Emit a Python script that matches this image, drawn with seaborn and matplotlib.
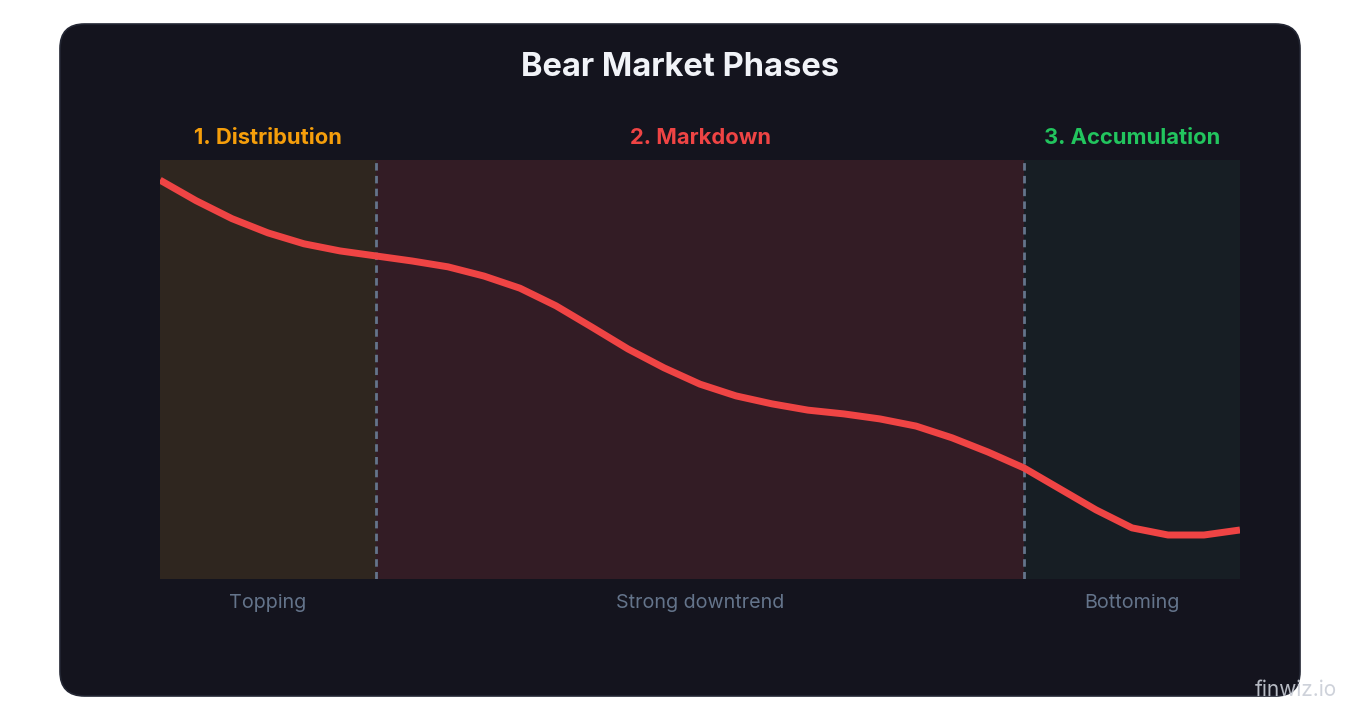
import numpy as np
import pandas as pd
import matplotlib
matplotlib.use('Agg')
import matplotlib.pyplot as plt
import matplotlib.transforms as mtransforms
from matplotlib.patches import FancyBboxPatch
import seaborn as sns

# ── data ──────────────────────────────────────────────────────────────────
step = list(range(31))
price = [95.2, 90.3, 86.0, 82.6, 80.0, 78.3, 77.1, 75.9, 74.5, 72.3,
         69.4, 65.2, 60.1, 54.9, 50.4, 46.5, 43.7, 41.8, 40.3, 39.4,
         38.2, 36.5, 33.7, 30.3, 26.5, 21.5, 16.5, 12.2, 10.5, 10.5, 11.7]

phase_names = ['1. Distribution', '2. Markdown', '3. Accumulation']
phase_notes = ['Topping', 'Strong downtrend', 'Bottoming']
phase_start = [0, 6, 24]
phase_end = [6, 24, 30]
phase_colors = ['#f59e0b', '#ef4444', '#22c55e']
phase_fills = ['#2f261f', '#331c25', '#171e24']

df = pd.DataFrame({'step': step, 'price': price})

# ── style ─────────────────────────────────────────────────────────────────
sns.set_theme(style='dark')
plt.rcParams['font.family'] = ['Inter', 'DejaVu Sans']

PANEL = '#14141e'
MUTED = '#64748b'

fig = plt.figure(figsize=(13.6, 7.2), dpi=100)
fig.patch.set_facecolor('white')

# rounded dark card behind everything
W, H = 1360, 720
card = FancyBboxPatch((60 / W, 24 / H), 1240 / W, 672 / H,
                      boxstyle='round,pad=0,rounding_size=0.018',
                      transform=fig.transFigure, facecolor=PANEL,
                      edgecolor='#232633', linewidth=1.2,
                      mutation_aspect=W / H)
card.set_zorder(-10)
fig.add_artist(card)

ax = fig.add_axes([160 / W, (720 - 579) / H, 1080 / W, 419 / H])
ax.set_zorder(1)
ax.set_facecolor(PANEL)

for s, e, fill in zip(phase_start, phase_end, phase_fills):
    ax.axvspan(s, e, color=fill, lw=0, zorder=0)

for b in phase_start[1:]:
    ax.axvline(b, color=MUTED, lw=2, linestyle=(0, (2.7, 1.9)), zorder=1)

sns.lineplot(data=df, x='step', y='price', ax=ax, color='#ef4444',
             linewidth=5, zorder=3, solid_capstyle='butt')

ax.set_xlim(0, 30)
ax.set_ylim(0, 100)
ax.set_xticks([])
ax.set_yticks([])
ax.set_xlabel('')
ax.set_ylabel('')
ax.grid(False)
for sp in ax.spines.values():
    sp.set_visible(False)

trans = mtransforms.blended_transform_factory(ax.transData, ax.transAxes)
for name, note, s, e, c in zip(phase_names, phase_notes, phase_start, phase_end, phase_colors):
    mid = (s + e) / 2
    ax.text(mid, 1.052, name, transform=trans, ha='center', va='center',
            color=c, fontsize=15.8, fontweight='bold', clip_on=False)
    ax.text(mid, -0.058, note, transform=trans, ha='center', va='center',
            color=MUTED, fontsize=14.2, clip_on=False)

fig.text(680 / W, 1 - 68 / H, 'Bear Market Phases', ha='center', va='center',
         color='#f1f3f8', fontsize=23.5, fontweight='bold')

fig.text(1296 / W, 1 - 690 / H, 'finwiz.io', ha='center', va='center',
         color='#c9cdd6', fontsize=15, alpha=0.9, zorder=5)

fig.savefig('out.png', dpi=100, facecolor=fig.get_facecolor())
